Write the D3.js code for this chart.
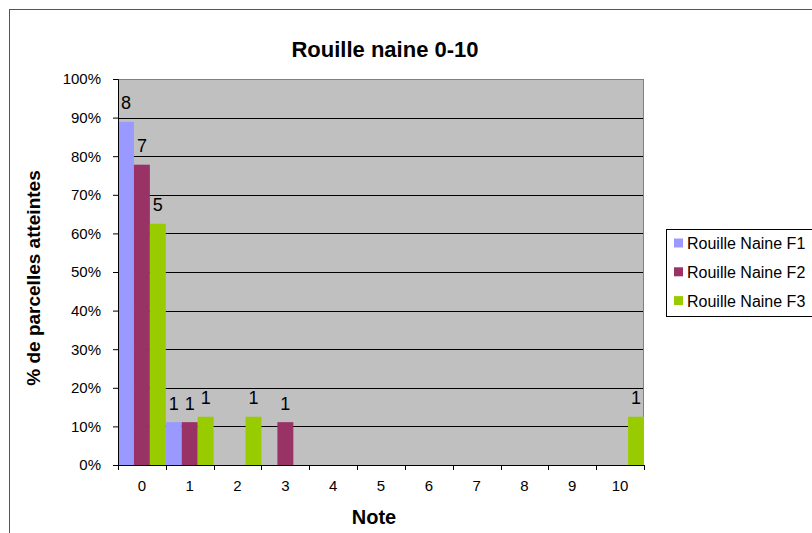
<!DOCTYPE html>
<html>
<head>
<meta charset="utf-8">
<script src="https://cdn.jsdelivr.net/npm/d3@7"></script>
<style>
  body { margin: 0; background: #fff; }
  svg { display: block; font-family: Arial, "Liberation Sans", sans-serif; }
</style>
</head>
<body>
<script>
// data (percent of plots, counts shown above bars)
const notes = ["0","1","2","3","4","5","6","7","8","9","10"];
const seriesNames = ["Rouille Naine F1","Rouille Naine F2","Rouille Naine F3"];
const seriesColors = ["#9999FF","#993366","#99CC00"];
const pctF1 = [88.9, 11.1, 0, 0, 0, 0, 0, 0, 0, 0, 0];
const pctF2 = [77.8, 11.1, 0, 11.1, 0, 0, 0, 0, 0, 0, 0];
const pctF3 = [62.5, 12.5, 12.5, 0, 0, 0, 0, 0, 0, 0, 12.5];
const cntF1 = [8, 1, 0, 0, 0, 0, 0, 0, 0, 0, 0];
const cntF2 = [7, 1, 0, 1, 0, 0, 0, 0, 0, 0, 0];
const cntF3 = [5, 1, 1, 0, 0, 0, 0, 0, 0, 0, 1];
const yTicks = [0,10,20,30,40,50,60,70,80,90,100];

const width = 812, height = 533;
const plot = {left: 118, top: 79, right: 644, bottom: 465};
const font = 'Arial, "Liberation Sans", sans-serif';

const svg = d3.select('body').append('svg')
  .attr('width', width)
  .attr('height', height);

// outer chart frame (clipped on right and bottom)
svg.append('rect')
  .attr('x', 9.5).attr('y', 9.5)
  .attr('width', 900).attr('height', 600)
  .attr('fill', '#fff')
  .attr('stroke', '#555').attr('stroke-width', 1);

const x0 = d3.scaleBand().domain(notes).range([plot.left, plot.right]).padding(0);
const x1 = d3.scaleBand().domain(seriesNames).range([0, x0.bandwidth()]).padding(0);
const y = d3.scaleLinear().domain([0, 100]).range([plot.bottom, plot.top]);

// plot background
svg.append('rect')
  .attr('x', plot.left).attr('y', plot.top)
  .attr('width', plot.right - plot.left).attr('height', plot.bottom - plot.top)
  .attr('fill', '#C0C0C0');

// gridlines
svg.append('g').selectAll('line')
  .data(yTicks.filter(t => t > 0))
  .join('line')
  .attr('x1', plot.left).attr('x2', plot.right)
  .attr('y1', d => Math.round(y(d)) + 0.5).attr('y2', d => Math.round(y(d)) + 0.5)
  .attr('stroke', '#000').attr('stroke-width', 1);

// plot border
svg.append('rect')
  .attr('x', plot.left + 0.5).attr('y', plot.top + 0.5)
  .attr('width', plot.right - plot.left - 1).attr('height', plot.bottom - plot.top)
  .attr('fill', 'none')
  .attr('stroke', '#808080');

const pcts = [pctF1, pctF2, pctF3];
const cnts = [cntF1, cntF2, cntF3];
const rows = [];
notes.forEach((n, i) => {
  seriesNames.forEach((s, j) => {
    rows.push({note: n, series: s, color: seriesColors[j], pct: pcts[j][i], cnt: cnts[j][i]});
  });
});

// bars
svg.append('g').selectAll('rect')
  .data(rows.filter(d => d.pct > 0))
  .join('rect')
  .attr('x', d => x0(d.note) + x1(d.series))
  .attr('y', d => y(d.pct))
  .attr('width', x1.bandwidth())
  .attr('height', d => y(0) - y(d.pct))
  .attr('fill', d => d.color);

// value labels
svg.append('g').selectAll('text')
  .data(rows.filter(d => d.cnt > 0))
  .join('text')
  .attr('x', d => x0(d.note) + x1(d.series) + x1.bandwidth() / 2)
  .attr('y', d => y(d.pct) - 12.5)
  .attr('text-anchor', 'middle')
  .attr('font-size', 18)
  .attr('fill', '#000')
  .text(d => d.cnt);

// y axis
const yAxis = svg.append('g')
  .attr('transform', `translate(${plot.left},0)`)
  .call(d3.axisLeft(y).tickValues(yTicks).tickSize(5).tickPadding(12).tickFormat(d => d + '%'));
yAxis.select('.domain').attr('stroke', '#000');
yAxis.selectAll('.tick line').attr('stroke', '#000');
yAxis.selectAll('text').attr('font-size', 15).attr('font-family', font).attr('fill', '#000');

// x axis
const xAxis = svg.append('g')
  .attr('transform', `translate(0,${plot.bottom})`)
  .call(d3.axisBottom(x0).tickSize(0).tickPadding(15));
xAxis.select('.domain').attr('stroke', '#000');
xAxis.selectAll('text').attr('font-size', 15).attr('font-family', font).attr('fill', '#000');
// tick marks between categories
xAxis.append('g').selectAll('line')
  .data(d3.range(notes.length + 1))
  .join('line')
  .attr('x1', i => Math.round(plot.left + i * x0.step()) + 0.5)
  .attr('x2', i => Math.round(plot.left + i * x0.step()) + 0.5)
  .attr('y1', 0).attr('y2', 5)
  .attr('stroke', '#000');

// title
svg.append('text')
  .attr('x', 385).attr('y', 57)
  .attr('text-anchor', 'middle')
  .attr('font-size', 22).attr('font-weight', 'bold')
  .text('Rouille naine 0-10');

// axis titles
svg.append('text')
  .attr('x', 374).attr('y', 524)
  .attr('text-anchor', 'middle')
  .attr('font-size', 20).attr('font-weight', 'bold')
  .text('Note');

svg.append('text')
  .attr('transform', 'translate(40,278) rotate(-90)')
  .attr('text-anchor', 'middle')
  .attr('font-size', 19).attr('font-weight', 'bold')
  .text('% de parcelles atteintes');

// legend
const legend = svg.append('g');
legend.append('rect')
  .attr('x', 666.5).attr('y', 229.5)
  .attr('width', 160).attr('height', 87)
  .attr('fill', '#fff').attr('stroke', '#000');
seriesNames.forEach((s, j) => {
  const cy = 243 + j * 28.8;
  legend.append('rect')
    .attr('x', 674).attr('y', cy - 4.5)
    .attr('width', 9).attr('height', 9)
    .attr('fill', seriesColors[j]);
  legend.append('text')
    .attr('x', 687).attr('y', cy + 6)
    .attr('font-size', 16)
    .text(s);
});
</script>
</body>
</html>
